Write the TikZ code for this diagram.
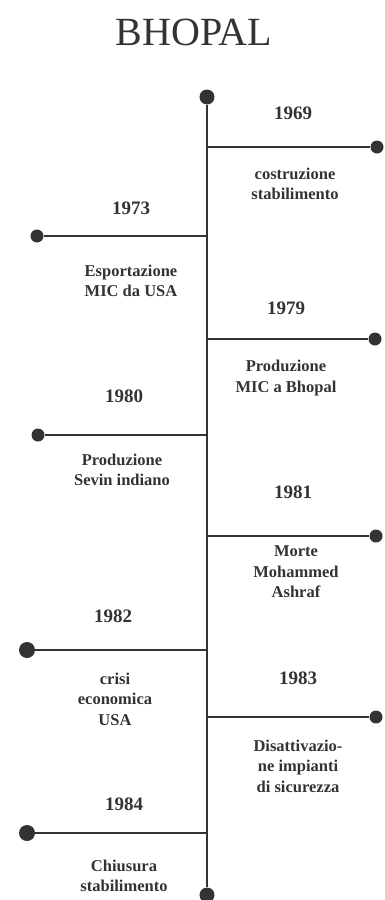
\documentclass[tikz,border=0pt]{standalone}
\usepackage{fontspec}
\setmainfont{Liberation Serif}
\usetikzlibrary{positioning}
\definecolor{ink}{HTML}{333333}

\begin{document}
\begin{tikzpicture}[
        x=1pt, y=-1pt,
        spine/.style={draw=ink, line width=2.6pt},
        branch/.style={draw=ink, line width=2.4pt},
        dot/.style={circle, fill=ink, inner sep=0pt, minimum size=#1},
        dot/.default=13pt,
        year/.style={text=ink, font=\fontsize{19}{22}\selectfont\bfseries},
        event/.style={text=ink, align=center, font=\fontsize{16.5}{20.5}\selectfont\bfseries}
    ]
        \useasboundingbox (0,0) rectangle (384,900);

        % Title
        \node[text=ink, font=\fontsize{40}{44}\selectfont] (title) at (194,32) {BHOPAL};

        % Spine
        \node[dot=15pt] (top) at (207,97) {};
        \node[dot=15pt] (bottom) at (207,895) {};
        \draw[spine] (top) -- (bottom);

        % Branch points and end dots
        \coordinate (j69) at (207,147);
        \coordinate (j73) at (207,236);
        \coordinate (j79) at (207,339);
        \coordinate (j80) at (207,435);
        \coordinate (j81) at (207,536);
        \coordinate (j82) at (207,650);
        \coordinate (j83) at (207,717);
        \coordinate (j84) at (207,833);
        \node[dot] (d69) at (377,147) {};
        \node[dot] (d73) at (37,236) {};
        \node[dot] (d79) at (375,339) {};
        \node[dot] (d80) at (38,435) {};
        \node[dot] (d81) at (376,536) {};
        \node[dot=16pt] (d82) at (27,650) {};
        \node[dot] (d83) at (376,717) {};
        \node[dot=16pt] (d84) at (27,833) {};

        % Years
        \node[year] (y69) at (293,113) {1969};
        \node[year] (y73) at (131,208) {1973};
        \node[year] (y79) at (286,308) {1979};
        \node[year] (y80) at (124,396) {1980};
        \node[year] (y81) at (293,492) {1981};
        \node[year] (y82) at (113,616) {1982};
        \node[year] (y83) at (298,678) {1983};
        \node[year] (y84) at (124,804) {1984};

        % Events
        \node[event] (e69) at (295,184) {costruzione\\stabilimento};
        \node[event] (e73) at (131,281) {Esportazione\\MIC da USA};
        \node[event] (e79) at (286,378) {Produzione\\MIC a Bhopal};
        \node[event] (e80) at (122,470) {Produzione\\Sevin indiano};
        \node[event] (e81) at (296,572) {Morte\\Mohammed\\Ashraf};
        \node[event] (e82) at (115,699) {crisi\\economica\\USA};
        \node[event] (e83) at (298,766) {Disattivazio-\\ne impianti\\di sicurezza};
        \node[event] (e84) at (124,876) {Chiusura\\stabilimento};

        % Branches
        \draw[branch] (j69) -- (d69);
        \draw[branch] (j73) -- (d73);
        \draw[branch] (j79) -- (d79);
        \draw[branch] (j80) -- (d80);
        \draw[branch] (j81) -- (d81);
        \draw[branch] (j82) -- (d82);
        \draw[branch] (j83) -- (d83);
        \draw[branch] (j84) -- (d84);
    \end{tikzpicture}
\end{document}
